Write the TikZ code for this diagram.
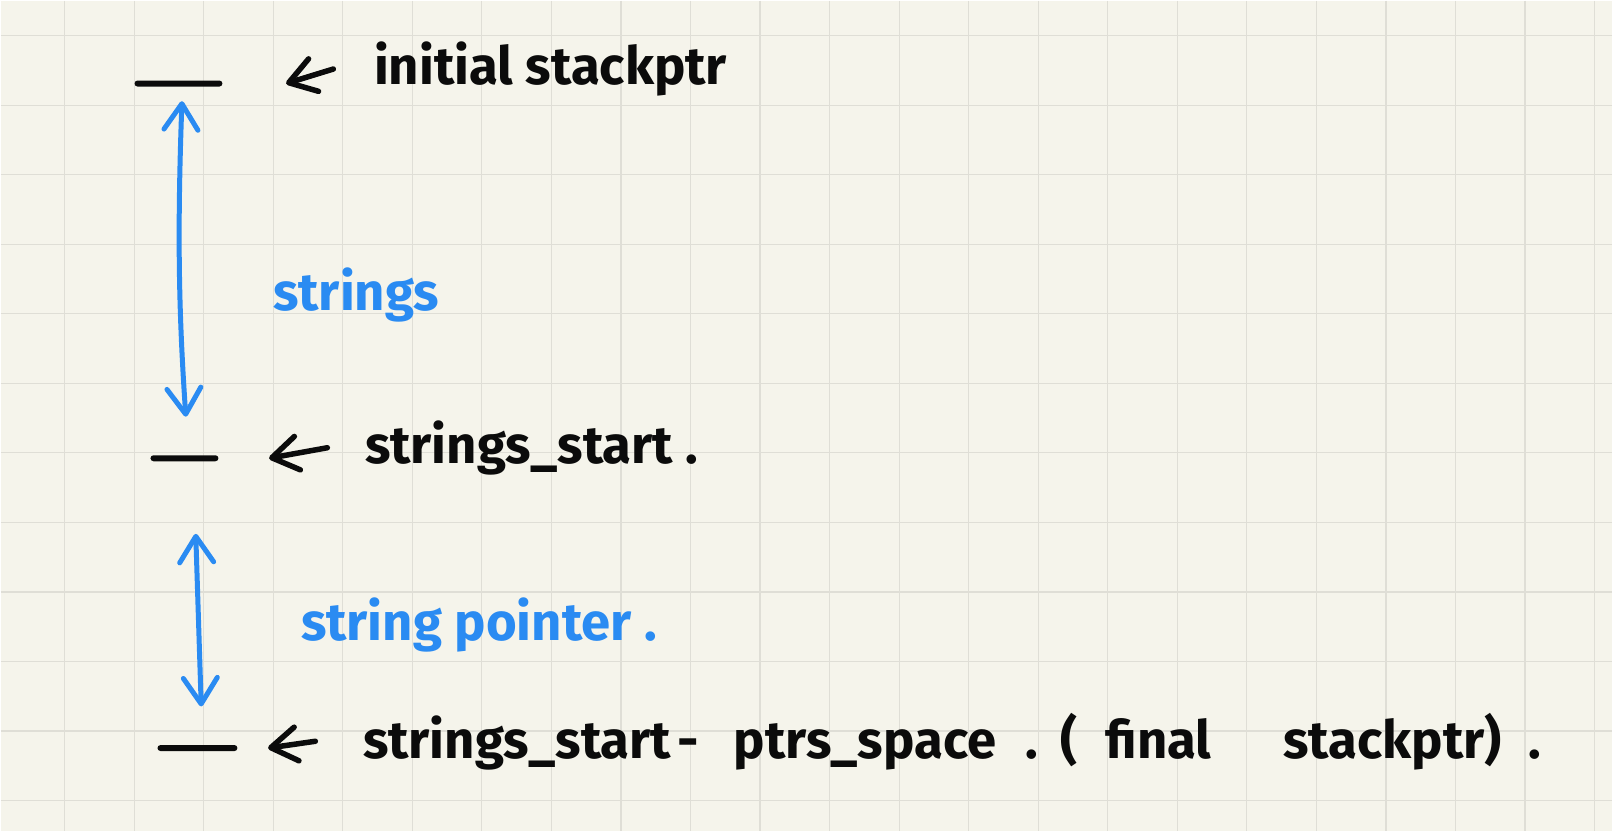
\documentclass[tikz,border=0pt]{standalone}
\usepackage{fontspec}
\setmainfont{Fira Sans}
\usetikzlibrary{arrows.meta,calc,positioning}
\definecolor{PaperCream}{HTML}{F5F4EB}
\definecolor{GridGrey}{HTML}{DFDED6}
\definecolor{InkBlack}{HTML}{0B0B0B}
\definecolor{PenBlue}{HTML}{2A8BF2}
\newcommand{\seg}[2]{\makebox[#1][l]{#2}}

\begin{document}
\begin{tikzpicture}[
  x=0.1mm,
  y=-0.1mm,
  >={Straight Barb[length=2.6mm,width=3.4mm,round]},
  tick/.style={rectangle,rounded corners=0.3mm,fill=InkBlack,inner sep=0,minimum height=0.6mm},
  note/.style={anchor=base west,inner sep=0,font=\fontsize{15}{18}\selectfont\bfseries,text=InkBlack},
  blue note/.style={note,text=PenBlue},
  ptr/.style={<-,draw=InkBlack,line width=0.55mm,line cap=round},
  span/.style={<->,draw=PenBlue,line width=0.5mm,line cap=round}
]
  % paper and grid
  \fill[PaperCream] (0,0) rectangle (1613,831);
  \foreach \gx in {0,...,22} {
    \draw[GridGrey,line width=0.12mm] ({64+69.6*\gx},0) -- ++(0,831);
  }
  \foreach \gy in {0,...,11} {
    \draw[GridGrey,line width=0.12mm] (0,{35+69.6*\gy}) -- ++(1613,0);
  }

  % stack marks
  \node[tick,minimum width=8.8mm] (top) at (178,83) {};
  \node[tick,minimum width=6.8mm] (mid) at (184,458) {};
  \node[tick,minimum width=8mm] (bot) at (197,748) {};

  % labels
  \node[note] (initlbl) at (373,84) {initial stackptr};
  \node[note] (startlbl) at (364,463) {strings\_start .};
  \node[note] (finallbl) at (362,758) {\seg{31.5mm}{strings\_start}\seg{5.6mm}{-}\seg{29.2mm}{ptrs\_space}\seg{3.5mm}{.}\seg{4.5mm}{(}\seg{17.8mm}{final}\seg{24.5mm}{stackptr)}.};
  \node[blue note] (strlbl) at (272,310) {strings};
  \node[blue note] (ptrlbl) at (300,640) {string pointer .};

  \draw[ptr] ([xshift=6.3mm]top.east) -- ([xshift=-4mm]initlbl.west);
  \draw[ptr] ([xshift=5mm]mid.east) -- ([xshift=-3.7mm]startlbl.west);
  \draw[ptr] ([xshift=3mm]bot.east) -- ([xshift=-4.7mm]finallbl.west);

  \draw[span,shorten <=1.4mm,shorten >=3.8mm] ([xshift=0.4mm]top.south) to[bend right=3] ([xshift=0.4mm]mid.north);
  \draw[span,shorten <=7.2mm,shorten >=3.8mm] ([xshift=0.9mm]mid.south) -- ([xshift=0.5mm]bot.north);
\end{tikzpicture}
\end{document}
